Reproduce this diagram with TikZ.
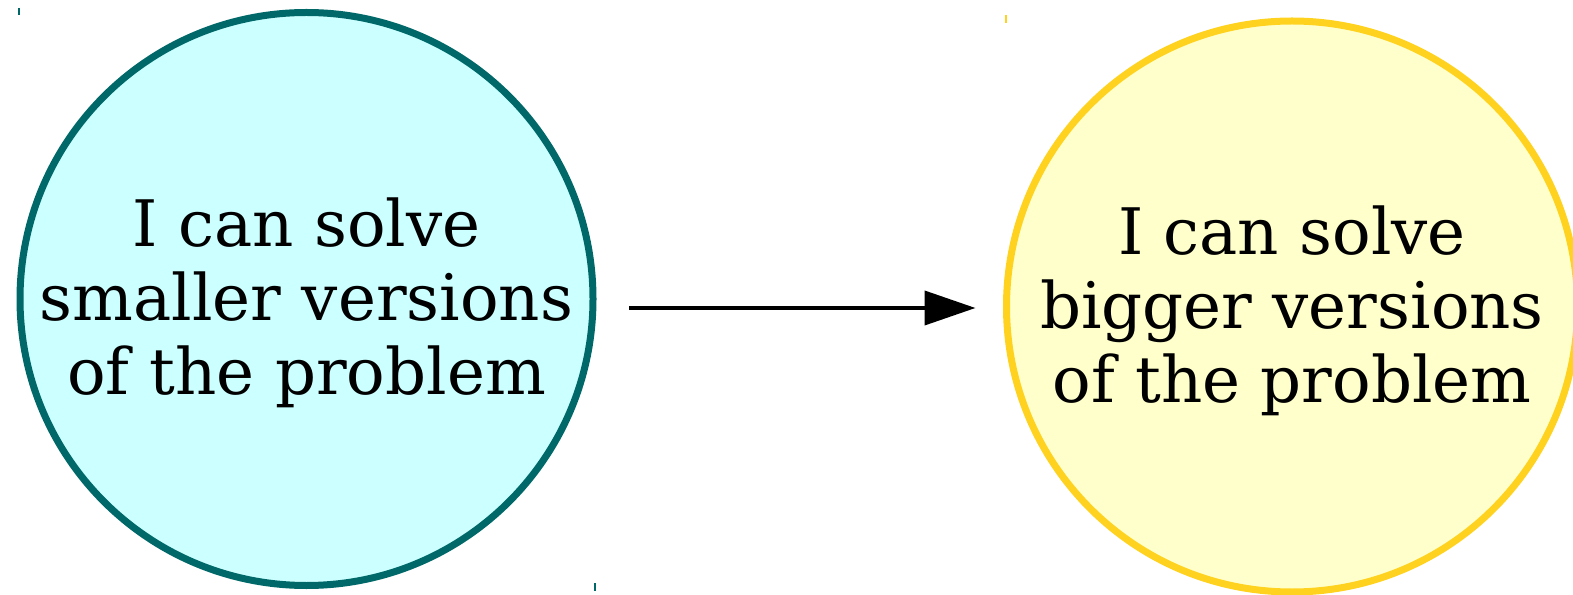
\documentclass[tikz,border=0pt]{standalone}
\usepackage{fontspec}
\setmainfont{DejaVu Serif}
\usetikzlibrary{arrows.meta}
\definecolor{tealline}{HTML}{006868}
\definecolor{cyanfill}{HTML}{CCFFFF}
\definecolor{goldline}{HTML}{FFD21F}
\definecolor{yellowfill}{HTML}{FFFFCC}
\begin{document}
\begin{tikzpicture}[>={Triangle[length=1.02cm, width=0.68cm]},
    bubble/.style={circle, line width=0.14cm, inner sep=0pt, outer sep=0pt},
    words/.style={align=center, font=\fontsize{36.5}{42}\selectfont}]
\useasboundingbox (0, 0) rectangle (31.46, -11.9);
% Circles
\node[bubble, draw=tealline, fill=cyanfill, minimum size=11.46cm] (small) at (6.13, -5.98) {};
\node[bubble, draw=goldline, fill=yellowfill, minimum size=11.42cm] (big) at (25.84, -6.13) {};
\node[words] (smalltext) at ([yshift=-0.08cm]small.center) {I can solve\\smaller versions\\of the problem};
\node[words] (bigtext) at ([yshift=-0.09cm]big.center) {I can solve\\bigger versions\\of the problem};
% Arrow
\draw[->, line width=0.08cm, shorten <=0.72cm, shorten >=0.62cm] ([yshift=-0.03cm]small.east |- big.center) -- ([yshift=-0.03cm]big.west);
% Corner marks
\draw[tealline, line width=0.03cm] (0.38, -0.16) -- (0.38, -0.30);
\draw[tealline, line width=0.03cm] (11.9, -11.66) -- (11.9, -11.82);
\draw[goldline, line width=0.04cm] (20.11, -0.30) -- (20.11, -0.46);
\end{tikzpicture}
\end{document}
